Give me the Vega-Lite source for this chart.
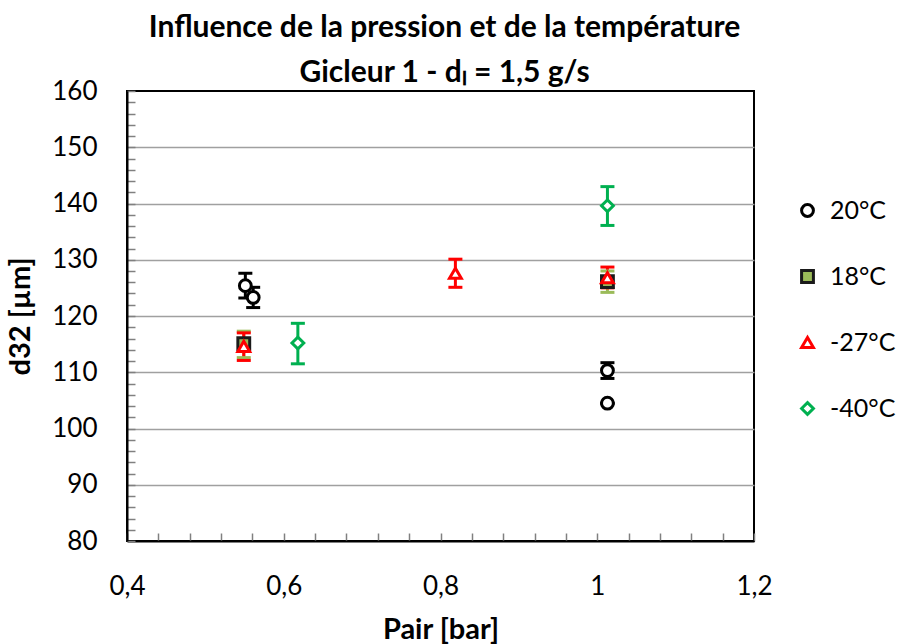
{
  "$schema": "https://vega.github.io/schema/vega-lite/v6.json",
  "width": 627,
  "height": 450,
  "autosize": {"type": "none"},
  "padding": {"left": 127, "top": 91, "right": 147, "bottom": 103},
  "background": "white",
  "title": {
    "text": ["Influence de la pression et de la température", "Gicleur 1 - dₗ = 1,5 g/s"],
    "font": "Lato",
    "fontSize": 30,
    "fontWeight": "bold",
    "color": "#000000",
    "anchor": "middle",
    "frame": "group",
    "lineHeight": 45,
    "offset": -10,
    "dx": 4
  },
  "config": {
    "view": {"stroke": "#000000", "strokeWidth": 2},
    "font": "Lato"
  },
  "resolve": {"scale": {"color": "independent"}, "legend": {"color": "independent"}},
  "data": {
    "values": [
      {"serie": "20°C", "p": 0.551, "d32": 125.4, "lo": 123.2, "hi": 127.6},
      {"serie": "20°C", "p": 0.561, "d32": 123.3, "lo": 121.5, "hi": 125.1},
      {"serie": "20°C", "p": 1.013, "d32": 110.3, "lo": 108.9, "hi": 111.7},
      {"serie": "20°C", "p": 1.013, "d32": 104.5, "lo": 104.5, "hi": 104.5},
      {"serie": "18°C", "p": 0.549, "d32": 115.1, "lo": 112.6, "hi": 117.3},
      {"serie": "18°C", "p": 1.013, "d32": 126.1, "lo": 124.2, "hi": 128.0},
      {"serie": "-27°C", "p": 0.549, "d32": 114.6, "lo": 112.1, "hi": 117.0},
      {"serie": "-27°C", "p": 0.819, "d32": 127.6, "lo": 125.1, "hi": 130.1},
      {"serie": "-27°C", "p": 1.013, "d32": 126.8, "lo": 125.0, "hi": 128.7},
      {"serie": "-40°C", "p": 0.618, "d32": 115.2, "lo": 111.5, "hi": 118.7},
      {"serie": "-40°C", "p": 1.013, "d32": 139.6, "lo": 136.1, "hi": 143.0}
    ]
  },
  "layer": [
    {
      "mark": {"type": "rule", "strokeWidth": 3},
      "encoding": {
        "x": {"field": "p", "type": "quantitative"},
        "y": {"field": "lo", "type": "quantitative"},
        "y2": {"field": "hi"},
        "color": {"field": "serie", "type": "nominal", "legend": null,
          "scale": {"domain": ["20°C", "18°C", "-27°C", "-40°C"], "range": ["#000000", "#9bbb59", "#ff0000", "#00b050"]}}
      }
    },
    {
      "mark": {"type": "tick", "orient": "horizontal", "size": 14, "thickness": 3, "opacity": 1},
      "encoding": {
        "x": {"field": "p", "type": "quantitative"},
        "y": {"field": "lo", "type": "quantitative"},
        "color": {"field": "serie", "type": "nominal", "legend": null,
          "scale": {"domain": ["20°C", "18°C", "-27°C", "-40°C"], "range": ["#000000", "#9bbb59", "#ff0000", "#00b050"]}}
      }
    },
    {
      "mark": {"type": "tick", "orient": "horizontal", "size": 14, "thickness": 3, "opacity": 1},
      "encoding": {
        "x": {"field": "p", "type": "quantitative"},
        "y": {"field": "hi", "type": "quantitative"},
        "color": {"field": "serie", "type": "nominal", "legend": null,
          "scale": {"domain": ["20°C", "18°C", "-27°C", "-40°C"], "range": ["#000000", "#9bbb59", "#ff0000", "#00b050"]}}
      }
    },
    {
      "mark": {"type": "point", "filled": false, "size": 140, "strokeWidth": 3, "opacity": 1, "fillOpacity": 1},
      "encoding": {
        "x": {
          "field": "p", "type": "quantitative",
          "scale": {"domain": [0.4, 1.2], "nice": false, "zero": false},
          "axis": {
            "title": "Pair [bar]",
            "titleFont": "Lato", "titleFontSize": 29, "titleFontWeight": "bold", "titleColor": "#000000",
            "titlePadding": 16,
            "tickCount": 200,
            "values": [0.4, 0.44, 0.48, 0.52, 0.56, 0.6, 0.64, 0.68, 0.72, 0.76, 0.8, 0.84, 0.88, 0.92, 0.96, 1.0, 1.04, 1.08, 1.12, 1.16, 1.2],
            "labelExpr": "abs(datum.value*5 - round(datum.value*5)) < 0.001 ? replace(format(datum.value, '.1~f'), '.', ',') : ''",
            "labelFont": "Lato", "labelFontSize": 26, "labelColor": "#000000",
            "labelPadding": 40, "labelFlush": false, "labelOverlap": false,
            "grid": false,
            "domainColor": "#000000", "domainWidth": 2,
            "tickColor": "#808080", "tickWidth": 1.5, "tickSize": -8
          }
        },
        "y": {
          "field": "d32", "type": "quantitative",
          "scale": {"domain": [80, 160], "nice": false, "zero": false},
          "axis": {
            "title": "d32 [µm]",
            "titleFont": "Lato", "titleFontSize": 29, "titleFontWeight": "bold", "titleColor": "#000000",
            "titlePadding": 16,
            "tickCount": 200,
            "values": [80, 82, 84, 86, 88, 90, 92, 94, 96, 98, 100, 102, 104, 106, 108, 110, 112, 114, 116, 118, 120, 122, 124, 126, 128, 130, 132, 134, 136, 138, 140, 142, 144, 146, 148, 150, 152, 154, 156, 158, 160],
            "labelExpr": "datum.value % 10 === 0 ? format(datum.value, 'd') : ''",
            "labelFont": "Lato", "labelFontSize": 26, "labelColor": "#000000",
            "labelPadding": 38, "labelOverlap": false,
            "grid": true, "gridColor": "#a0a0a0", "gridWidth": 1.5,
            "gridOpacity": {"condition": {"test": "datum.value % 10 === 0 && datum.value > 80 && datum.value < 160", "value": 1}, "value": 0},
            "domainColor": "#000000", "domainWidth": 2,
            "tickColor": "#808080", "tickWidth": 1.5, "tickSize": -8
          }
        },
        "stroke": {
          "field": "serie", "type": "nominal",
          "scale": {"domain": ["20°C", "18°C", "-27°C", "-40°C"], "range": ["#000000", "#1a1a1a", "#ff0000", "#00b050"]},
          "legend": {
            "title": null, "orient": "none", "legendX": 668, "legendY": 107,
            "labelFont": "Lato", "labelFontSize": 25, "labelColor": "#000000",
            "rowPadding": 40, "labelOffset": 10, "symbolSize": 140, "symbolStrokeWidth": 3, "padding": 0
          }
        },
        "fill": {
          "field": "serie", "type": "nominal",
          "scale": {"domain": ["20°C", "18°C", "-27°C", "-40°C"], "range": ["#ffffff", "#9bbb59", "#ffffff", "#ffffff"]}
        },
        "shape": {
          "field": "serie", "type": "nominal",
          "scale": {"domain": ["20°C", "18°C", "-27°C", "-40°C"], "range": ["circle", "square", "triangle-up", "diamond"]}
        }
      }
    }
  ]
}
